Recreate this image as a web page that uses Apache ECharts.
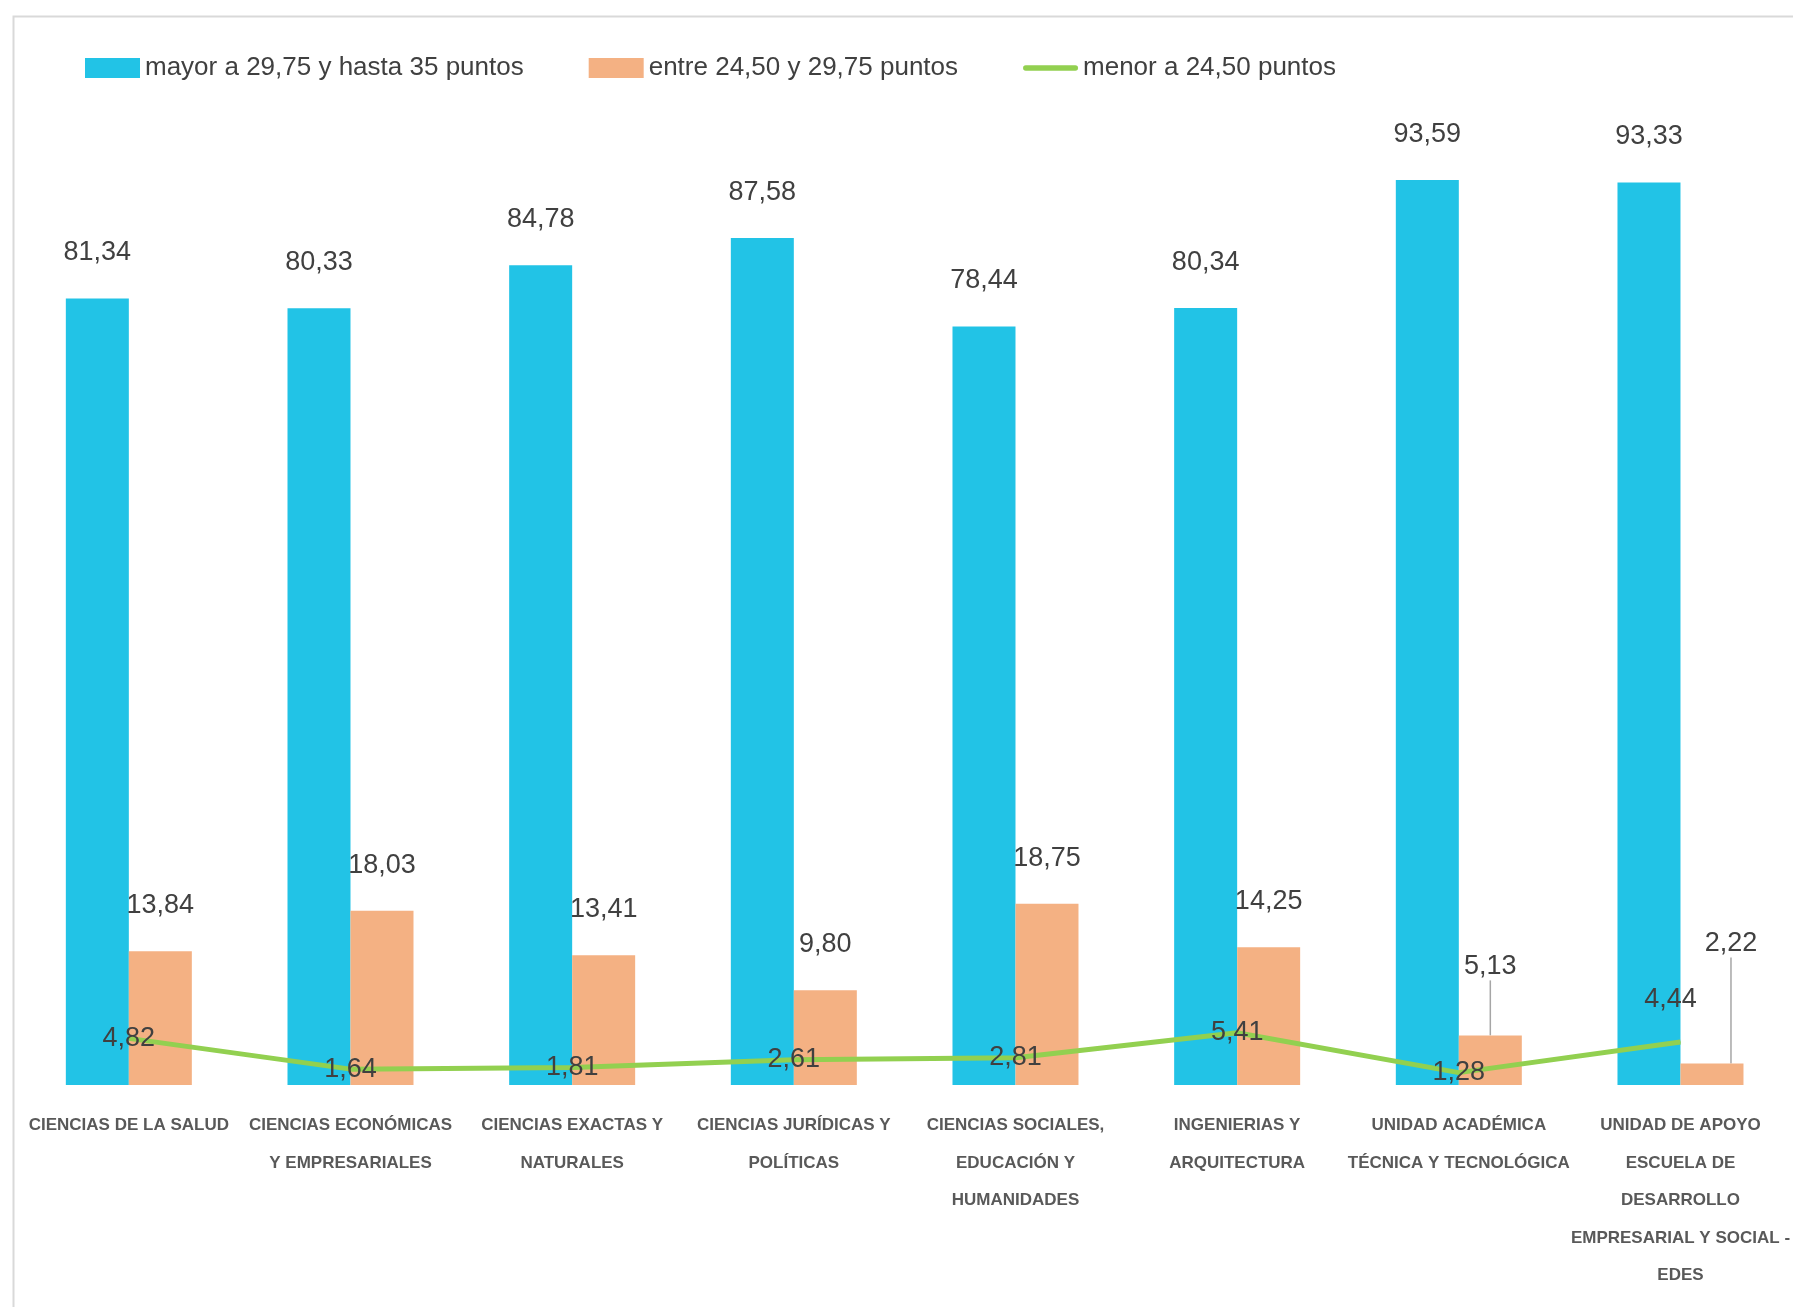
<!DOCTYPE html>
<html>
<head>
<meta charset="utf-8">
<script src="https://cdn.jsdelivr.net/npm/echarts@6/dist/echarts.min.js"></script>
<style>
html,body{margin:0;padding:0;background:#fff;overflow:hidden;}
#chart{width:1793px;height:1307px;}
</style>
</head>
<body>
<div id="chart"></div>
<script>
const categories = [
  'CIENCIAS DE LA SALUD',
  'CIENCIAS ECONÓMICAS\nY EMPRESARIALES',
  'CIENCIAS EXACTAS Y\nNATURALES',
  'CIENCIAS JURÍDICAS Y\nPOLÍTICAS',
  'CIENCIAS SOCIALES,\nEDUCACIÓN Y\nHUMANIDADES',
  'INGENIERIAS Y\nARQUITECTURA',
  'UNIDAD ACADÉMICA\nTÉCNICA Y TECNOLÓGICA',
  'UNIDAD DE APOYO\nESCUELA DE\nDESARROLLO\nEMPRESARIAL Y SOCIAL -\nEDES'
];
const seriesNames = ['mayor a 29,75 y hasta 35 puntos', 'entre 24,50 y 29,75 puntos', 'menor a 24,50 puntos'];
const altoValues = [81.34, 80.33, 84.78, 87.58, 78.44, 80.34, 93.59, 93.33];
const medioValues = [13.84, 18.03, 13.41, 9.80, 18.75, 14.25, 5.13, 2.22];
const bajoValues = [4.82, 1.64, 1.81, 2.61, 2.81, 5.41, 1.28, 4.44];

const FONT = "'Liberation Sans',Arial,sans-serif";
const fmt = p => Number(p.value).toFixed(2).replace('.', ',');

const chart = echarts.init(document.getElementById('chart'), null, {renderer: 'canvas', width: 1793, height: 1307});
chart.setOption({
  animation: false,
  backgroundColor: '#ffffff',
  textStyle: {fontFamily: FONT},
  graphic: [{
    type: 'rect', left: 11, top: 14, silent: true,
    shape: {width: 1820, height: 1400},
    style: {fill: 'none', stroke: '#d9d9d9', lineWidth: 2}
  }],
  legend: {
    left: 80, top: 50,
    itemWidth: 55, itemHeight: 20, itemGap: 65,
    textStyle: {fontFamily: FONT, fontSize: 26, color: '#404040'},
    data: [
      {name: seriesNames[0], icon: 'rect'},
      {name: seriesNames[1], icon: 'rect'},
      {name: seriesNames[2], icon: 'path://M3,0 h54 a3,3 0 0 1 0,6 h-54 a3,3 0 0 1 0,-6 z', itemStyle: {color: '#92D050'}}
    ]
  },
  grid: {left: 18, right: 1, top: 118, bottom: 1307 - 1085, containLabel: false},
  xAxis: {
    type: 'category', data: categories,
    axisLine: {show: false}, axisTick: {show: false},
    axisLabel: {
      interval: 0, margin: 22, color: '#595959', fontWeight: 'bold',
      fontFamily: FONT, fontSize: 17, lineHeight: 37.5, align: 'center'
    }
  },
  yAxis: {type: 'value', min: 0, max: 100, show: false, splitLine: {show: false}},
  series: [
    {
      name: seriesNames[0], type: 'bar', data: altoValues,
      barWidth: 63, barGap: '0%',
      itemStyle: {color: '#22C3E6'},
      label: {show: true, position: 'top', distance: 32, formatter: fmt,
        fontFamily: FONT, fontSize: 27, color: '#404040'}
    },
    {
      name: seriesNames[1], type: 'bar',
      data: medioValues.map((v, i) => ({value: v, labelLine: {show: i >= 6}})),
      barWidth: 63, barGap: '0%',
      itemStyle: {color: '#F4B183'},
      label: {show: true, position: 'top', distance: 32, formatter: fmt,
        fontFamily: FONT, fontSize: 27, color: '#404040'},
      labelLine: {show: false, lineStyle: {color: '#a6a6a6', width: 1.5}},
      labelLayout: function (p) {
        if (p.dataIndex === 6) return {dy: -23};
        if (p.dataIndex === 7) return {dx: 19, dy: -74};
        return {};
      }
    },
    {
      name: seriesNames[2], type: 'line',
      data: bajoValues.map((v, i) => i === 7 ? {value: v, label: {offset: [-10, -43]}} : v),
      symbol: 'circle', symbolSize: 1, showSymbol: true,
      lineStyle: {color: '#92D050', width: 5},
      itemStyle: {color: '#92D050'},
      z: 5,
      label: {show: true, position: 'inside', formatter: fmt,
        fontFamily: FONT, fontSize: 27, color: '#404040'}
    }
  ]
});
</script>
</body>
</html>
